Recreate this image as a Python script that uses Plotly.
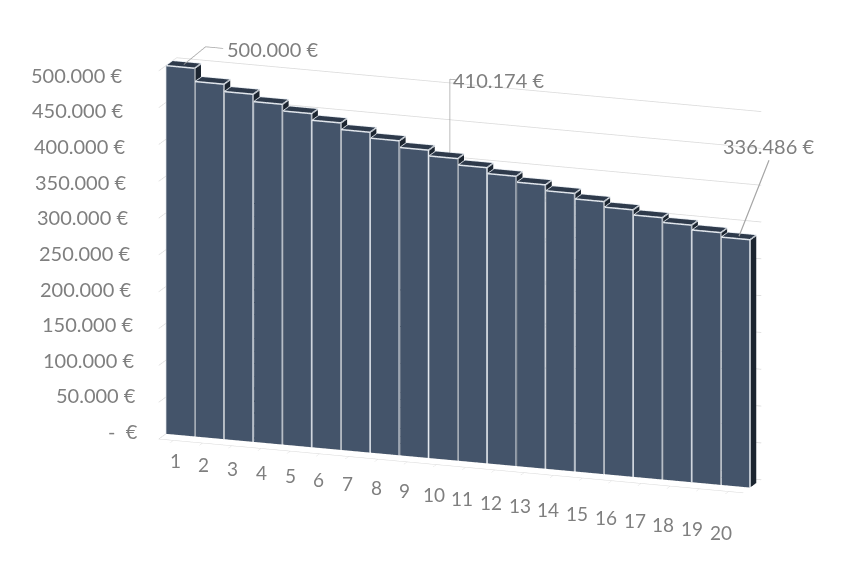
import plotly.graph_objects as go

categories = list(range(1, 21))
values = [500000, 482000, 472000, 462000, 453000, 444000, 435000, 427000, 418000, 410174,
          401500, 393500, 385500, 377500, 370000, 362500, 355500, 349000, 342500, 336486]
z_ticks = [0, 50000, 100000, 150000, 200000, 250000, 300000, 350000, 400000, 450000, 500000]
z_labels = ["-  €", "50.000 €", "100.000 €", "150.000 €", "200.000 €", "250.000 €",
            "300.000 €", "350.000 €", "400.000 €", "450.000 €", "500.000 €"]

FRONT, TOP, SIDE = "#44546A", "#2E3A4B", "#1C2530"
EDGE, GREY, GRID = "#E4E9EF", "#7F7F7F", "#D9D9D9"
HW, Y0, Y1 = 0.485, 0.4, 0.75
ZMAX = 540000

vx, vy, vz, fi, fj, fk, fc = [], [], [], [], [], [], []
ex, ey, ez = [], [], []


def add_edge(points):
    for p in points:
        ex.append(p[0]); ey.append(p[1]); ez.append(p[2])
    ex.append(None); ey.append(None); ez.append(None)


for c, v in zip(categories, values):
    x0, x1 = c - HW, c + HW
    n = len(vx)
    corners = [(x0, Y0, 0), (x1, Y0, 0), (x1, Y1, 0), (x0, Y1, 0),
               (x0, Y0, v), (x1, Y0, v), (x1, Y1, v), (x0, Y1, v)]
    for p in corners:
        vx.append(p[0]); vy.append(p[1]); vz.append(p[2])
    quads = [((0, 1, 5, 4), FRONT), ((4, 5, 6, 7), TOP), ((1, 2, 6, 5), SIDE),
             ((0, 3, 7, 4), SIDE), ((3, 2, 6, 7), SIDE), ((0, 1, 2, 3), SIDE)]
    for (a, b, d, e), col in quads:
        fi += [n + a, n + a]; fj += [n + b, n + d]; fk += [n + d, n + e]
        fc += [col, col]
    add_edge([corners[0], corners[4], corners[5], corners[1]])
    add_edge([corners[4], corners[7], corners[6], corners[5]])

fig = go.Figure()
fig.add_trace(go.Mesh3d(x=vx, y=vy, z=vz, i=fi, j=fj, k=fk, facecolor=fc, flatshading=True,
                        lighting=dict(ambient=1, diffuse=0, specular=0, fresnel=0, roughness=1),
                        hoverinfo="skip", showscale=False))
fig.add_trace(go.Scatter3d(x=ex, y=ey, z=ez, mode="lines", line=dict(color=EDGE, width=3),
                           hoverinfo="skip", showlegend=False))

# Leader lines for the labelled bars
ym = (Y0 + Y1) / 2
lead1 = dict(x=[1, 1.75, 2.35], y=[ym] * 3, z=[values[0], 527000, 527000])
lead10 = dict(x=[10, 10, 10.2], y=[Y1] * 3, z=[values[9], 510000, 510000])
for ld in (lead1, lead10):
    fig.add_trace(go.Scatter3d(mode="lines", line=dict(color="#A6A6A6", width=1.5),
                               hoverinfo="skip", showlegend=False, **ld))

label_font = dict(family="Lato", size=20, color=GREY)
annotations = [
    dict(x=2.4, y=ym, z=527000, text="500.000 €", showarrow=False, xanchor="left", font=label_font),
    dict(x=10.25, y=Y1, z=510000, text="410.174 €", showarrow=False, xanchor="left", xshift=-6,
         font=label_font),
    dict(x=20, y=ym, z=values[19], text="336.486 €", showarrow=True, arrowhead=0, arrowwidth=1.2,
         arrowcolor="#A6A6A6", ax=30, ay=-76, yanchor="bottom", font=label_font),
]
# Value-axis labels lean with the wall; category labels sit under the floor edge
for t, lab in zip(z_ticks, z_labels):
    u = t / 500000
    annotations.append(dict(x=0.5, y=0, z=t, text=lab, showarrow=False, xanchor="right",
                            xshift=-19 - 16 * u, yshift=8 - 12 * u, font=label_font))
for c in categories:
    u = (c - 1) / 19
    annotations.append(dict(x=c, y=0, z=0, text=str(c), showarrow=False, yanchor="top",
                            yshift=-7 - 20 * u, xshift=2 - 10 * u,
                            font=dict(family="Lato", size=19, color=GREY)))

fig.update_layout(
    width=842, height=564, margin=dict(l=0, r=0, t=0, b=0), paper_bgcolor="white",
    showlegend=False,
    scene=dict(
        domain=dict(x=[0.0735, 1], y=[0, 1]),
        aspectmode="manual", aspectratio=dict(x=2.2, y=0.19, z=1.46),
        camera=dict(projection=dict(type="orthographic"),
                    eye=dict(x=0.8, y=-2.25, z=0.64 - 0.108),
                    center=dict(x=0, y=0, z=-0.108), up=dict(x=0, y=0, z=1)),
        xaxis=dict(range=[0.5, 20.5], tickvals=categories, showticklabels=False,
                   title="", showgrid=False, zeroline=False, showline=True, linecolor=GRID,
                   ticks="outside", ticklen=5, tickcolor=GRID, showbackground=False, showspikes=False),
        yaxis=dict(range=[0, 1], visible=False, showbackground=False, showspikes=False),
        zaxis=dict(range=[0, ZMAX], tickvals=z_ticks, showticklabels=False, title="", showgrid=True,
                   gridcolor=GRID, gridwidth=1.5, zeroline=False, showline=False, ticks="",
                   showbackground=False, showspikes=False),
        annotations=annotations,
    ),
)
fig.write_html("out.html")
